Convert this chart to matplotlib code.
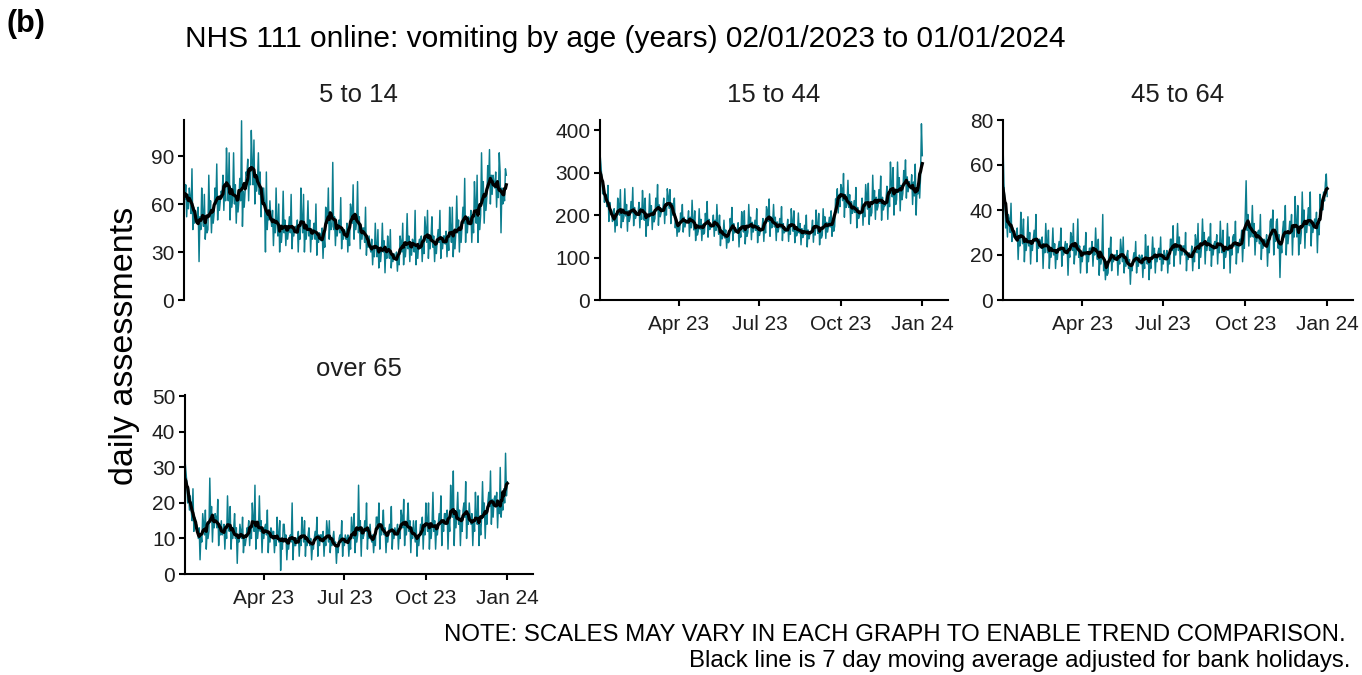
import numpy as np
import pandas as pd
import matplotlib
matplotlib.use("Agg")
import matplotlib.pyplot as plt

plt.rcParams['font.family'] = ['Liberation Sans', 'DejaVu Sans']

# ---------------- data (daily assessments, 02/01/2023 .. 01/01/2024) ----------------
start_date = "2023-01-02"
end_date = "2024-01-01"

age_5_14 = [
    80, 63, 72, 52, 66, 57, 70,
    64, 54, 82, 44, 58, 48, 56,
    50, 50, 58, 24, 52, 44, 70,
    54, 46, 66, 38, 48, 42, 44,
    78, 52, 62, 42, 56, 48, 54,
    70, 60, 85, 50, 64, 56, 62,
    68, 66, 78, 56, 72, 62, 95,
    74, 62, 92, 50, 66, 58, 64,
    92, 60, 72, 48, 64, 55, 62,
    76, 62, 112, 46, 68, 58, 68,
    80, 78, 88, 62, 82, 72, 106,
    86, 72, 100, 60, 78, 68, 75,
    92, 66, 80, 52, 70, 60, 70,
    60, 30, 80, 44, 56, 50, 62,
    52, 46, 56, 34, 50, 42, 70,
    48, 40, 60, 30, 43, 36, 44,
    68, 42, 50, 34, 46, 38, 44,
    52, 42, 66, 32, 45, 40, 45,
    46, 42, 50, 30, 46, 38, 70,
    50, 42, 66, 30, 44, 38, 45,
    62, 40, 50, 30, 44, 38, 44,
    48, 38, 60, 28, 42, 36, 42,
    41, 37, 45, 26, 40, 33, 58,
    56, 48, 70, 38, 50, 44, 46,
    86, 44, 52, 34, 48, 40, 46,
    50, 42, 64, 32, 45, 38, 44,
    42, 38, 48, 30, 42, 34, 60,
    56, 48, 72, 38, 50, 44, 49,
    74, 42, 52, 32, 46, 38, 45,
    45, 36, 58, 28, 40, 33, 40,
    33, 30, 38, 22, 33, 27, 48,
    34, 27, 44, 20, 30, 24, 31,
    48, 30, 37, 17, 33, 26, 40,
    32, 26, 44, 20, 28, 24, 29,
    27, 25, 30, 18, 27, 22, 40,
    36, 30, 48, 22, 33, 27, 35,
    54, 32, 40, 24, 36, 28, 38,
    36, 30, 56, 22, 33, 26, 35,
    38, 33, 40, 24, 36, 29, 52,
    44, 36, 56, 26, 39, 32, 40,
    52, 33, 40, 24, 36, 29, 38,
    44, 36, 56, 26, 39, 32, 40,
    40, 35, 43, 27, 39, 31, 58,
    45, 36, 58, 27, 40, 32, 42,
    65, 42, 50, 30, 45, 36, 47,
    58, 48, 76, 36, 52, 42, 52,
    51, 47, 56, 36, 51, 42, 74,
    60, 48, 78, 36, 52, 44, 53,
    92, 62, 74, 48, 66, 56, 64,
    84, 72, 94, 60, 78, 66, 78,
    73, 70, 80, 58, 74, 64, 92,
    80, 42, 70, 60, 66, 62, 82,
    78,
]

age_15_44 = [
    345, 320, 290, 250, 270, 230, 250,
    240, 220, 270, 185, 230, 205, 210,
    185, 190, 215, 160, 200, 175, 240,
    225, 200, 260, 170, 210, 185, 195,
    262, 198, 225, 162, 210, 185, 195,
    232, 205, 265, 175, 218, 192, 200,
    200, 204, 230, 170, 216, 190, 258,
    215, 188, 240, 150, 200, 175, 190,
    250, 198, 222, 166, 208, 184, 192,
    240, 212, 272, 176, 224, 196, 206,
    215, 214, 240, 180, 226, 200, 262,
    245, 216, 260, 180, 228, 200, 225,
    240, 170, 195, 150, 180, 160, 165,
    205, 185, 225, 160, 195, 172, 188,
    186, 184, 210, 150, 195, 170, 235,
    185, 165, 210, 140, 175, 153, 162,
    215, 167, 190, 140, 178, 155, 159,
    204, 180, 232, 148, 190, 166, 175,
    171, 176, 200, 150, 188, 164, 225,
    176, 155, 200, 128, 165, 144, 152,
    188, 146, 165, 122, 155, 135, 139,
    192, 170, 218, 140, 180, 158, 167,
    162, 160, 182, 125, 170, 148, 208,
    180, 160, 210, 132, 170, 150, 160,
    225, 172, 195, 142, 183, 160, 169,
    188, 164, 215, 135, 175, 152, 161,
    167, 170, 192, 138, 180, 158, 220,
    210, 185, 238, 150, 196, 170, 181,
    225, 172, 195, 140, 184, 160, 170,
    192, 170, 220, 140, 180, 158, 165,
    161, 167, 190, 138, 178, 155, 215,
    185, 162, 210, 135, 173, 151, 160,
    205, 158, 180, 130, 168, 147, 153,
    176, 155, 200, 125, 165, 144, 155,
    161, 165, 188, 136, 175, 153, 212,
    178, 157, 204, 130, 167, 146, 152,
    215, 172, 196, 145, 183, 160, 175,
    195, 172, 210, 150, 183, 162, 174,
    238, 235, 262, 205, 248, 220, 272,
    262, 234, 298, 195, 248, 218, 225,
    282, 218, 248, 180, 232, 204, 211,
    234, 206, 265, 170, 218, 192, 199,
    205, 212, 240, 176, 225, 196, 272,
    242, 214, 275, 178, 227, 198, 206,
    294, 228, 258, 190, 242, 212, 221,
    260, 228, 292, 188, 242, 212, 223,
    222, 238, 268, 190, 252, 220, 325,
    275, 243, 312, 200, 258, 225, 237,
    325, 254, 288, 210, 270, 236, 251,
    305, 275, 330, 240, 290, 255, 279,
    265, 262, 295, 225, 278, 245, 320,
    200, 262, 250, 280, 240, 290, 415,
    340,
]

age_45_64 = [
    70, 52, 44, 32, 36, 28, 38,
    36, 30, 43, 26, 32, 28, 29,
    28, 27, 32, 18, 28, 24, 39,
    30, 25, 36, 17, 26, 22, 26,
    37, 24, 30, 16, 26, 22, 27,
    31, 26, 38, 17, 27, 23, 27,
    26, 23, 28, 14, 25, 21, 34,
    25, 21, 31, 14, 22, 19, 22,
    32, 20, 25, 14, 22, 18, 23,
    26, 22, 32, 15, 23, 20, 23,
    26, 21, 25, 11, 22, 19, 30,
    28, 22, 34, 16, 24, 20, 24,
    36, 19, 24, 12, 21, 17, 22,
    24, 20, 30, 12, 21, 17, 23,
    23, 22, 26, 15, 23, 20, 32,
    22, 18, 27, 11, 19, 16, 20,
    38, 13, 18, 9, 15, 11, 12,
    23, 19, 28, 13, 20, 17, 20,
    20, 18, 22, 11, 19, 16, 27,
    22, 17, 28, 12, 19, 15, 20,
    22, 14, 18, 7, 16, 13, 18,
    21, 17, 26, 12, 19, 15, 20,
    19, 16, 20, 10, 18, 14, 29,
    20, 16, 24, 9, 17, 14, 19,
    28, 19, 23, 12, 20, 17, 21,
    23, 18, 28, 13, 20, 16, 22,
    19, 18, 22, 12, 19, 16, 27,
    27, 22, 33, 15, 24, 20, 24,
    34, 22, 28, 16, 24, 20, 24,
    24, 20, 30, 13, 21, 18, 21,
    20, 19, 24, 13, 21, 17, 29,
    26, 21, 34, 14, 23, 19, 24,
    36, 25, 30, 16, 26, 22, 27,
    28, 22, 34, 15, 24, 20, 25,
    26, 23, 29, 16, 25, 21, 35,
    25, 21, 31, 14, 22, 19, 22,
    34, 22, 28, 12, 24, 20, 28,
    29, 24, 35, 16, 25, 21, 25,
    27, 26, 31, 17, 27, 23, 38,
    53, 31, 38, 24, 34, 28, 30,
    42, 28, 34, 20, 30, 26, 30,
    31, 25, 38, 18, 27, 23, 27,
    26, 24, 29, 15, 25, 21, 35,
    36, 29, 40, 20, 31, 26, 35,
    36, 23, 29, 10, 25, 21, 31,
    35, 28, 42, 20, 30, 25, 30,
    35, 31, 38, 20, 33, 28, 46,
    35, 28, 42, 20, 30, 25, 30,
    48, 33, 40, 23, 35, 30, 36,
    41, 33, 48, 24, 35, 30, 34,
    36, 32, 39, 21, 34, 29, 47,
    38, 42, 40, 48, 44, 52, 56,
    46,
]

age_over_65 = [
    32, 29, 26, 20, 24, 18, 22,
    18, 15, 24, 12, 16, 13, 14,
    13, 10, 13, 4, 11, 9, 17,
    14, 11, 18, 7, 12, 10, 12,
    27, 15, 19, 9, 16, 13, 17,
    16, 13, 21, 8, 14, 11, 15,
    11, 12, 14, 7, 13, 10, 22,
    14, 12, 19, 7, 12, 10, 13,
    17, 10, 13, 3, 11, 9, 14,
    12, 10, 16, 6, 10, 8, 10,
    13, 12, 15, 8, 13, 10, 20,
    15, 12, 25, 7, 13, 10, 13,
    22, 12, 15, 6, 13, 10, 13,
    14, 11, 18, 6, 12, 9, 13,
    12, 10, 12, 6, 10, 8, 16,
    11, 9, 15, 1, 9, 7, 14,
    14, 9, 11, 4, 9, 7, 10,
    11, 9, 20, 4, 10, 8, 8,
    10, 10, 12, 5, 10, 8, 16,
    12, 9, 15, 5, 10, 8, 11,
    13, 8, 10, 4, 8, 7, 10,
    12, 10, 16, 5, 11, 8, 11,
    11, 9, 12, 5, 10, 8, 15,
    12, 9, 15, 6, 10, 8, 10,
    12, 8, 9, 3, 8, 6, 10,
    11, 9, 15, 5, 10, 8, 11,
    10, 9, 11, 5, 9, 7, 16,
    13, 10, 17, 6, 11, 9, 11,
    25, 12, 15, 5, 13, 10, 11,
    15, 12, 20, 7, 13, 10, 14,
    10, 9, 11, 6, 10, 8, 16,
    16, 13, 20, 7, 14, 11, 14,
    18, 11, 13, 6, 11, 9, 12,
    14, 12, 19, 7, 12, 10, 13,
    12, 11, 14, 7, 12, 10, 18,
    16, 13, 21, 8, 14, 11, 15,
    20, 12, 15, 6, 13, 10, 15,
    12, 9, 15, 5, 10, 8, 11,
    14, 13, 16, 7, 14, 11, 20,
    15, 12, 20, 7, 13, 10, 14,
    23, 12, 15, 7, 13, 11, 14,
    17, 14, 22, 8, 15, 12, 17,
    17, 14, 18, 7, 15, 12, 25,
    19, 16, 29, 8, 17, 13, 17,
    23, 14, 18, 8, 15, 12, 18,
    20, 16, 26, 10, 17, 14, 20,
    16, 14, 17, 8, 15, 12, 23,
    16, 14, 22, 8, 14, 11, 16,
    26, 16, 20, 10, 17, 14, 20,
    23, 19, 29, 14, 21, 16, 21,
    22, 19, 23, 13, 20, 17, 30,
    16, 20, 18, 24, 20, 34, 22,
    26,
]

panel_titles = ["5 to 14", "15 to 44", "45 to 64", "over 65"]
y_limits = [112.5, 424, 80, 50.4]
y_ticks = [[0, 30, 60, 90], [0, 100, 200, 300, 400], [0, 20, 40, 60, 80],
           [0, 10, 20, 30, 40, 50]]
x_tick_dates = ["2023-04-01", "2023-07-01", "2023-10-01", "2024-01-01"]
x_tick_labels = ["Apr 23", "Jul 23", "Oct 23", "Jan 24"]
x_limit_end = "2024-01-30"

title_text = "NHS 111 online: vomiting by age (years) 02/01/2023 to 01/01/2024"
note_line1 = "NOTE: SCALES MAY VARY IN EACH GRAPH TO ENABLE TREND COMPARISON."
note_line2 = "Black line is 7 day moving average adjusted for bank holidays."

# ---------------- figure ----------------
W, H = 1362, 675
fig = plt.figure(figsize=(W / 100, H / 100), dpi=100)

TEAL = "#0B7D8E"
TXT = "#1e1e1e"

# panel boxes in pixels: (left, top, right, bottom)
boxes = [(184, 120, 532, 300), (600, 120, 948, 300),
         (1003, 120, 1353, 300), (185, 395, 533, 574)]
show_x = [False, True, True, True]

dates = pd.date_range(start_date, end_date, freq="D")
series = [age_5_14, age_15_44, age_45_64, age_over_65]

for i, (vals, box) in enumerate(zip(series, boxes)):
    l, t, r, b = box
    ax = fig.add_axes([l / W, 1 - b / H, (r - l) / W, (b - t) / H])
    s = pd.Series(vals, index=dates, dtype=float)
    ma = s.rolling(7, center=True, min_periods=1).mean()
    ax.plot(dates, s.values, color=TEAL, lw=1.05, zorder=2)
    ax.plot(dates, ma.values, color="black", lw=2.3, zorder=3)
    ax.set_xlim(pd.Timestamp(start_date), pd.Timestamp(x_limit_end))
    ax.set_ylim(0, y_limits[i])
    ax.set_yticks(y_ticks[i])
    ax.spines["top"].set_visible(False)
    ax.spines["right"].set_visible(False)
    ax.spines["left"].set_linewidth(1.5)
    ax.spines["bottom"].set_linewidth(1.5)
    ax.tick_params(axis="both", length=4, width=1.5, color="black",
                   labelsize=15, labelcolor=TXT)
    ax.tick_params(axis="y", pad=3)
    ax.tick_params(axis="x", pad=7)
    if show_x[i]:
        ax.set_xticks([pd.Timestamp(d) for d in x_tick_dates])
        ax.set_xticklabels(x_tick_labels)
    else:
        ax.spines["bottom"].set_visible(False)
        ax.set_xticks([])
    ax.set_facecolor("none")
    cx = (l + r) / 2
    ty = t - 25 if i < 3 else t - 26
    fig.text(cx / W, 1 - ty / H, panel_titles[i], ha="center", va="center",
             fontsize=18.5, color=TXT)

fig.text(185 / W, 1 - 39 / H, title_text, ha="left", va="center",
         fontsize=21.5, color="black")
fig.text(7 / W, 1 - 24 / H, "(b)", ha="left", va="center",
         fontsize=22, fontweight="bold", color="black")
fig.text(124 / W, 1 - 346 / H, "daily assessments", ha="center", va="center",
         rotation=90, fontsize=24.5, color="black")
fig.text(1346 / W, 1 - 635 / H, note_line1, ha="right", va="center",
         fontsize=17.3, color="black")
fig.text(1350 / W, 1 - 661 / H, note_line2, ha="right", va="center",
         fontsize=17.3, color="black")

fig.savefig("out.png", dpi=100)
